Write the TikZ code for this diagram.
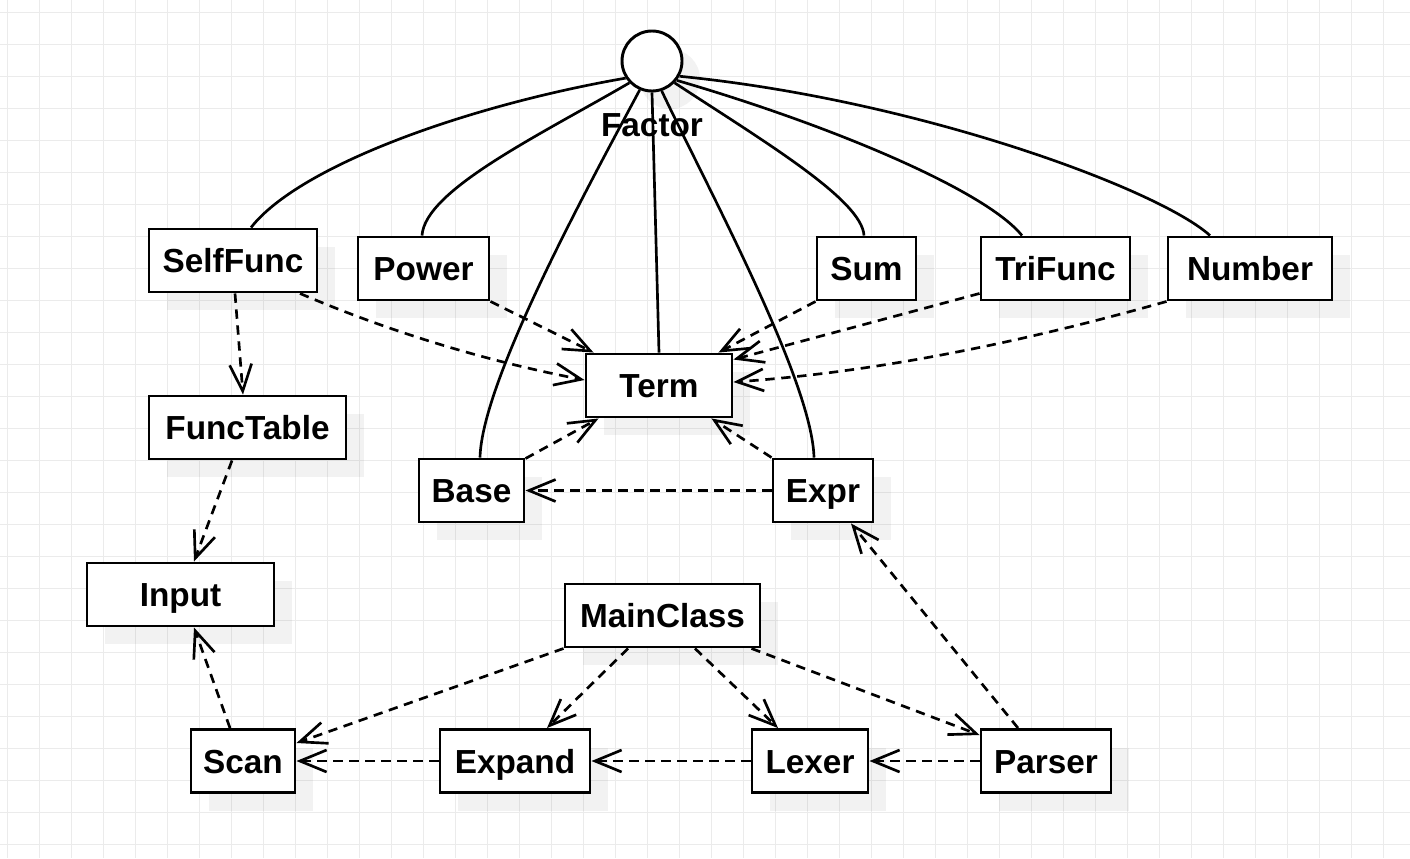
\documentclass[tikz,border=0pt]{standalone}
\usepackage{fontspec}
\setmainfont{Liberation Sans}
\usetikzlibrary{arrows.meta,shadows}

\begin{document}
\begin{tikzpicture}[x=0.75pt, y=-0.75pt,
    boxshadow/.style={drop shadow={shadow xshift=13.5pt, shadow yshift=-13.5pt, fill=black, opacity=0.05}},
    lbl/.style={inner sep=0pt, text height=18pt, text depth=0pt, font=\fontsize{25}{30}\selectfont\bfseries},
    cls/.style={lbl, draw, line width=2.2pt, fill=white, minimum height=47.25pt, boxshadow},
    link/.style={line width=2pt},
    dep/.style={line width=2pt, dash pattern=on 7pt off 5pt, -{Straight Barb[length=20pt, width=16.5pt]}},
    gridline/.style={line width=0.75pt, draw=black!8}]
  \fill[white] (0,0) rectangle (1410,858);
  \useasboundingbox (0,0) rectangle (1410,858);
  \foreach \gx in {7,39,...,1410}
    \draw[gridline] (\gx,0) -- (\gx,858);
  \foreach \gy in {12,44,...,858}
    \draw[gridline] (0,\gy) -- (1410,\gy);

  \node[circle, draw, line width=2.2pt, fill=white, minimum size=45pt, inner sep=0pt, boxshadow] (factor) at (652,61) {};
  \node[lbl] (factorlbl) at (652,124) {Factor};

  \node[cls, minimum width=126pt] (selffunc) at (233,260.5) {SelfFunc};
  \node[cls, minimum width=98.25pt] (power) at (423.5,268.5) {Power};
  \node[cls, minimum width=109.5pt] (term) at (659,385.5) {Term};
  \node[cls, minimum width=74.25pt] (sum) at (866.5,268.5) {Sum};
  \node[cls, minimum width=111.75pt] (trifunc) at (1055.5,268.5) {TriFunc};
  \node[cls, minimum width=123pt] (number) at (1250,268.5) {Number};
  \node[cls, minimum width=147.75pt] (functable) at (247.5,427.5) {FuncTable};
  \node[cls, minimum width=78.75pt] (base) at (471.5,490.5) {Base};
  \node[cls, minimum width=75pt] (expr) at (823,490.5) {Expr};
  \node[cls, minimum width=140.25pt] (input) at (180.5,594.5) {Input};
  \node[cls, minimum width=146.25pt] (mainclass) at (662.5,615.5) {MainClass};
  \node[cls, minimum width=78pt] (scan) at (243,761) {Scan};
  \node[cls, minimum width=112.5pt] (expand) at (515,761) {Expand};
  \node[cls, minimum width=87pt] (lexer) at (810,761) {Lexer};
  \node[cls, minimum width=97.5pt] (parser) at (1046,761) {Parser};

  \draw[link] (factor.213) .. controls (470,105) and (300,165) .. ([shift={(18,0)}]selffunc.north);
  \draw[link] (factor.224) .. controls (540,135) and (425,190) .. ([shift={(-1.5,0)}]power.north);
  \draw[link] (factor.247) .. controls (589,185) and (482,380) .. ([shift={(8.5,0)}]base.north);
  \draw[link] (factor.south) -- (term.north);
  \draw[link] (factor.288) .. controls (706,185) and (812,380) .. ([shift={(-9,0)}]expr.north);
  \draw[link] (factor.316) .. controls (765,142) and (862,200) .. ([shift={(-2.5,0)}]sum.north);
  \draw[link] (factor.322) .. controls (830,125) and (985,190) .. ([shift={(-33.5,0)}]trifunc.north);
  \draw[link] (factor.331) .. controls (920,100) and (1160,190) .. ([shift={(-40,0)}]number.north);

  \draw[dep] ([shift={(2,0)}]selffunc.south) -- ([shift={(-4.5,0)}]functable.north);
  \draw[dep] ([shift={(67,0)}]selffunc.south) .. controls (395,334) and (491,362) .. ([shift={(0,-5.5)}]term.west);
  \draw[dep] (power.south east) -- ([shift={(9,0)}]term.north west);
  \draw[dep] (sum.south west) -- ([shift={(-15,0)}]term.north east);
  \draw[dep] ([shift={(0,-8)}]trifunc.south west) -- ([shift={(0,7)}]term.north east);
  \draw[dep] (number.south west) .. controls (1023,342) and (878,372) .. ([shift={(0,-3.5)}]term.east);
  \draw[dep] ([shift={(0,1)}]base.north east) -- ([shift={(14,0)}]term.south west);
  \draw[dep] (expr.north west) -- ([shift={(-22,0)}]term.south east);
  \draw[dep] (expr.west) -- (base.east);
  \draw[dep] ([shift={(-15.5,0)}]functable.south) -- ([shift={(13.5,0)}]input.north);
  \draw[dep] ([shift={(-13,0)}]scan.north) -- ([shift={(13.5,0)}]input.south);
  \draw[dep] (mainclass.south west) -- ([shift={(0,-18)}]scan.east);
  \draw[dep] ([shift={(-34.5,0)}]mainclass.south) -- ([shift={(32,0)}]expand.north);
  \draw[dep] ([shift={(32.5,0)}]mainclass.south) -- ([shift={(-32,0)}]lexer.north);
  \draw[dep] ([shift={(-10,0)}]mainclass.south east) -- ([shift={(0,-26)}]parser.west);
  \draw[dep] ([shift={(-28,0)}]parser.north) -- ([shift={(28,0)}]expr.south);
  \draw[dep] (parser.west) -- (lexer.east);
  \draw[dep] (lexer.west) -- (expand.east);
  \draw[dep] (expand.west) -- (scan.east);
\end{tikzpicture}
\end{document}
